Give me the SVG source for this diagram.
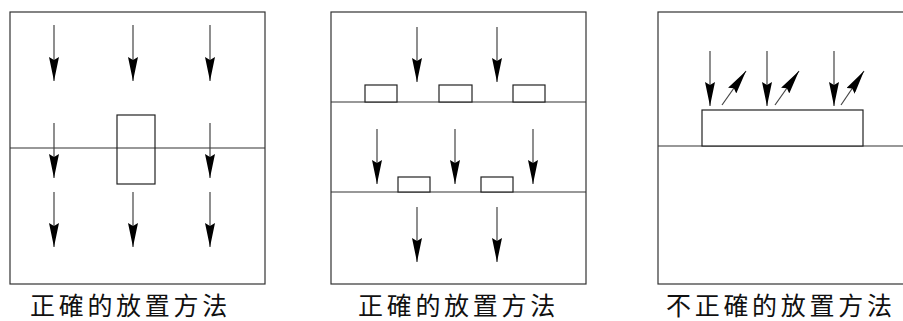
<svg xmlns="http://www.w3.org/2000/svg" width="903" height="321" viewBox="0 0 903 321">
<style>
.frame{fill:none;stroke:#333;stroke-width:1.2}
.blk{fill:#fff;stroke:#222;stroke-width:1.2}
.arr{stroke:#444;stroke-width:1.2;fill:none;marker-end:url(#ah)}
.lbl{font-family:"Noto Sans CJK SC","Noto Sans CJK TC",sans-serif;font-size:25px;letter-spacing:3.7px;fill:#111}
</style>
<defs>
<marker id="ah" viewBox="0 0 24 10" refX="24" refY="5" markerWidth="24" markerHeight="10" markerUnits="userSpaceOnUse" orient="auto">
<path d="M0,0 L24,5 L0,10 L3,5 Z" fill="#000"/>
</marker>
</defs>
<rect width="903" height="321" fill="#fff"/>
<g id="panel1">
<rect class="frame" x="10" y="12" width="255" height="272"/>
<line class="frame" x1="10" y1="148" x2="265" y2="148"/>
<rect class="blk" x="117" y="115" width="38" height="69" style="fill:none"/>
<text class="lbl" x="30" y="315">正確的放置方法</text>
</g>
<g id="panel2">
<rect class="frame" x="331" y="12" width="255" height="272"/>
<line class="frame" x1="331" y1="102" x2="586" y2="102"/>
<line class="frame" x1="331" y1="192" x2="586" y2="192"/>
<rect class="blk" x="365" y="85" width="32" height="17"/>
<rect class="blk" x="439" y="85" width="33" height="17"/>
<rect class="blk" x="513" y="85" width="32" height="17"/>
<rect class="blk" x="398" y="177" width="32" height="15"/>
<rect class="blk" x="481" y="177" width="32" height="15"/>
<text class="lbl" x="358" y="315">正確的放置方法</text>
</g>
<g id="panel3">
<rect class="frame" x="658" y="12" width="260" height="272"/>
<line class="frame" x1="658" y1="146" x2="903" y2="146"/>
<rect class="blk" x="702" y="110" width="161" height="36"/>
<text class="lbl" x="666" y="315">不正確的放置方法</text>
</g>
<g id="connectors">
<line class="arr" x1="54" y1="25" x2="54" y2="81"/>
<line class="arr" x1="133" y1="25" x2="133" y2="81"/>
<line class="arr" x1="210" y1="25" x2="210" y2="81"/>
<line class="arr" x1="54" y1="123" x2="54" y2="178"/>
<line class="arr" x1="210" y1="123" x2="210" y2="178"/>
<line class="arr" x1="54" y1="192" x2="54" y2="247"/>
<line class="arr" x1="133" y1="192" x2="133" y2="247"/>
<line class="arr" x1="210" y1="192" x2="210" y2="247"/>
<line class="arr" x1="417" y1="27" x2="417" y2="82"/>
<line class="arr" x1="497" y1="27" x2="497" y2="82"/>
<line class="arr" x1="377" y1="129" x2="377" y2="184"/>
<line class="arr" x1="455" y1="129" x2="455" y2="184"/>
<line class="arr" x1="533" y1="129" x2="533" y2="184"/>
<line class="arr" x1="417" y1="207" x2="417" y2="262"/>
<line class="arr" x1="497" y1="207" x2="497" y2="262"/>
<line class="arr" x1="710" y1="51" x2="710" y2="106"/>
<line class="arr" x1="767" y1="51" x2="767" y2="106"/>
<line class="arr" x1="834" y1="51" x2="834" y2="106"/>
<line class="arr" x1="722" y1="105" x2="746" y2="71"/>
<line class="arr" x1="775" y1="105" x2="799" y2="71"/>
<line class="arr" x1="841" y1="105" x2="864" y2="71"/>
</g>
</svg>
